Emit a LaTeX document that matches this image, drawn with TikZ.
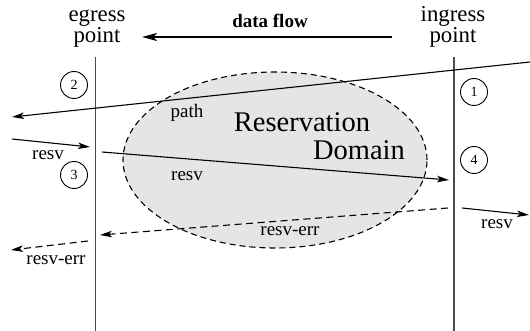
\documentclass[tikz,border=0pt]{standalone}
\usepackage{fontspec}
\setmainfont{Liberation Serif}
\newfontfamily\tms{Liberation Serif}
\usetikzlibrary{arrows.meta,shapes.geometric}
\begin{document}
\begin{tikzpicture}[x=1pt,y=-1pt,
  lbl/.style={inner sep=0pt, anchor=base, font=\tms\fontsize{19}{21}\selectfont},
  hdr/.style={inner sep=0pt, anchor=base, scale=1.2, transform shape, font=\tms\fontsize{19}{21}\selectfont},
  big/.style={inner sep=0pt, anchor=base, scale=1.5, transform shape, font=\tms\fontsize{19}{21}\selectfont},
  num/.style={circle, draw, line width=0.9pt, minimum size=27pt, inner sep=0pt, font=\tms\fontsize{14}{14}\selectfont},
  wire/.style={line width=1.1pt, -{Stealth[length=12pt,width=6.5pt,inset=3pt]}},
  dwire/.style={wire, dash pattern=on 7pt off 4.5pt},
  post/.style={line width=1.3pt, black!70},
  resdomain/.style={ellipse, draw, fill=black!10, dash pattern=on 6pt off 4pt, line width=1.1pt, minimum width=304pt, minimum height=176pt, inner sep=0pt}]
\useasboundingbox (0,0) rectangle (530,331);

% reservation domain
\node[resdomain] (dom) at (275,160) {};
\node[big] (res) at (302,132) {Reservation};
\node[big] (dmn) at (359,160) {Domain};

% posts
\coordinate (egTop) at (95.5,57);
\coordinate (egBot) at (95.5,331);
\coordinate (inTop) at (454,57);
\coordinate (inBot) at (454,331);
\draw[post] (egTop) -- (egBot);
\draw[post] (inTop) -- (inBot);

% headers
\node[hdr] (eg1) at (97,22) {egress};
\node[hdr] (eg2) at (97,43) {point};
\node[hdr] (in1) at (453,22) {ingress};
\node[hdr] (in2) at (453,43) {point};

% data flow
\node[lbl, font=\tms\fontsize{19}{21}\selectfont\bfseries] (df) at (270,28) {data flow};
\coordinate (dfS) at (392,37);
\coordinate (dfE) at (142,37);
\draw[line width=2.2pt, -{Stealth[length=15pt,width=8pt,inset=4pt]}] (dfS) -- (dfE);

% numbered circles
\node[num] (c1) at (474,92) {1};
\node[num] (c2) at (74,85) {2};
\node[num] (c3) at (74,175) {3};
\node[num] (c4) at (474,160) {4};

% path
\coordinate (pS) at (530,62);
\coordinate (pE) at (12,117);
\draw[wire] (pS) -- (pE);
\node[lbl] (lpath) at (187,118) {path};

% resv
\coordinate (r1S) at (12,139);
\coordinate (r1E) at (90,147);
\draw[wire] (r1S) -- (r1E);
\node[lbl] (lr1) at (48,160) {resv};

\coordinate (r2S) at (102,152);
\coordinate (r2E) at (449,180);
\draw[wire] (r2S) -- (r2E);
\node[lbl] (lr2) at (187,181) {resv};

\coordinate (r3S) at (462,208);
\coordinate (r3E) at (529,215);
\draw[wire] (r3S) -- (r3E);
\node[lbl] (lr3) at (497,229) {resv};

% resv-err
\coordinate (e1S) at (448,208);
\coordinate (e1E) at (100,235);
\draw[dwire] (e1S) -- (e1E);
\node[lbl] (le1) at (290,236) {resv-err};

\coordinate (e2S) at (88,241);
\coordinate (e2E) at (11,250);
\draw[dwire] (e2S) -- (e2E);
\node[lbl] (le2) at (56,264) {resv-err};
\end{tikzpicture}
\end{document}
